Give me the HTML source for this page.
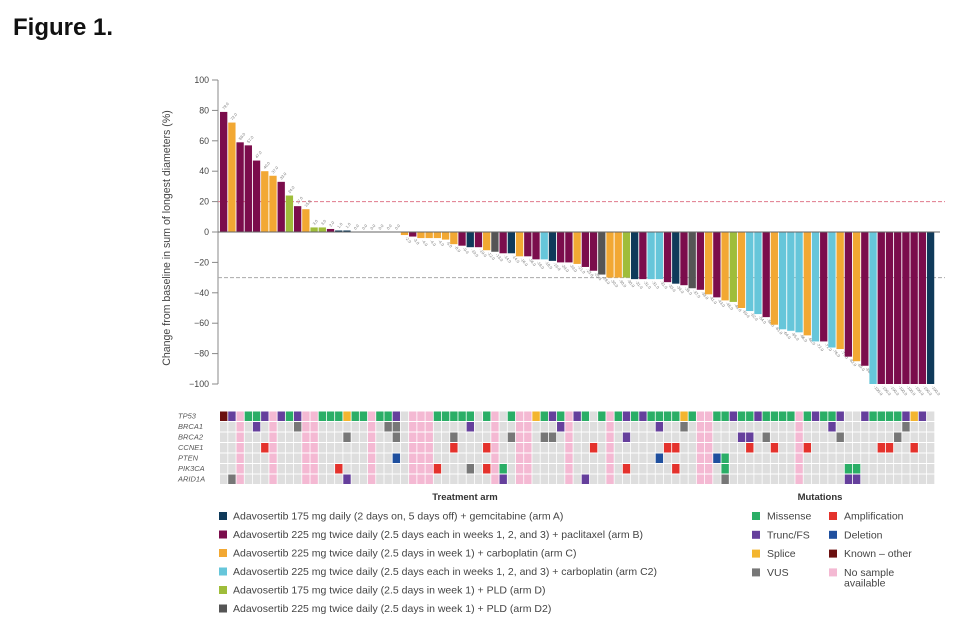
<!DOCTYPE html>
<html><head><meta charset="utf-8"><style>
body{margin:0;background:#fff;width:955px;height:628px;overflow:hidden;font-family:"Liberation Sans",sans-serif}
</style></head><body>
<svg id="chart" width="955" height="628" xmlns="http://www.w3.org/2000/svg" font-family="Liberation Sans, sans-serif">
<text x="13" y="35" font-size="24" font-weight="bold" fill="#111">Figure 1.</text>
<g id="axis"></g>
<text transform="translate(170,238) rotate(-90)" text-anchor="middle" font-size="10.6" fill="#444">Change from baseline in sum of longest diameters (%)</text>
<g id="bars"></g>
<g id="heat"></g>
<g id="legend"></g>
<g id="mlegend"></g>
</svg>
<script>
const values=[79,72,59,57,47,40,37,33,24,17,15,3,3,2,1,1,0,0,0,0,0,0,
-2,-3,-4,-4,-4,-5,-8,-9,-10,-10,-12,-13,-14,-14,-16,-16,-18,-18,-19,-20,-20,
-21,-23,-25.5,-28,-30,-30,-30,-31,-31,-31,-31,-33,-34,-35,-37,-38,-41,-43,-45,-46,-50,-52,-54,-56,-61,-64,-65,-66,-68,-72,-72,-76,-77,-82,-85,-88,-100,-100,-100,-100,-100,-100,-100,-100];
const arms=['B','C','B','B','B','C','C','B','D','B','C','D','D','B','A','A','B','B','B','B','B','B',
'C','B','C','C','C','C','C','B','A','B','C','D2','B','A','C','B','B','C2','A','B','B',
'C','B','B','D2','C','C','D','A','B','C2','C2','B','A','B','D2','B','C','B','C','D','C','C2','C2','B','C','C2','C2','C2','C','C2','B','C2','C','B','C','B','C2','B','B','B','B','B','B','A'];
const yTicks=[100,80,60,40,20,0,-20,-40,-60,-80,-100];
const genes=['TP53','BRCA1','BRCA2','CCNE1','PTEN','PIK3CA','ARID1A'];
const noSample=[2,6,10,11,18,23,24,25,33,36,37,42,47,58,59,70];
const tp53=[[0,'k'],[1,'t'],[3,'m'],[4,'m'],[5,'t'],[7,'t'],[8,'m'],[9,'t'],[12,'m'],[13,'m'],[14,'m'],[15,'s'],[16,'m'],[17,'m'],[19,'m'],[20,'m'],[21,'t'],[26,'m'],[27,'m'],[28,'m'],[29,'m'],[30,'m'],[32,'m'],[35,'m'],[38,'s'],[39,'m'],[40,'t'],[41,'m'],[43,'t'],[44,'m'],[46,'m'],[48,'m'],[49,'t'],[50,'m'],[51,'t'],[52,'m'],[53,'m'],[54,'m'],[55,'m'],[56,'s'],[57,'m'],[60,'m'],[61,'m'],[62,'t'],[63,'m'],[64,'m'],[65,'t'],[66,'m'],[67,'m'],[68,'m'],[69,'m'],[71,'m'],[72,'t'],[73,'m'],[74,'m'],[75,'t'],[78,'t'],[79,'m'],[80,'m'],[81,'m'],[82,'m'],[83,'t'],[84,'s'],[85,'t']];
const brca1=[[4,'t'],[9,'v'],[20,'v'],[21,'v'],[30,'t'],[41,'t'],[53,'t'],[56,'v'],[74,'t'],[83,'v']];
const brca2=[[15,'v'],[21,'v'],[28,'v'],[35,'v'],[39,'v'],[40,'v'],[49,'t'],[63,'t'],[64,'t'],[66,'v'],[75,'v'],[82,'v']];
const ccne1=[[5,'a'],[28,'a'],[32,'a'],[45,'a'],[54,'a'],[55,'a'],[64,'a'],[67,'a'],[71,'a'],[80,'a'],[81,'a'],[84,'a']];
const pten=[[21,'d'],[53,'d'],[60,'d'],[61,'m']];
const pik3ca=[[14,'a'],[26,'a'],[30,'v'],[32,'a'],[34,'m'],[49,'a'],[55,'a'],[61,'m'],[76,'m'],[77,'m']];
const arid1a=[[1,'v'],[15,'t'],[34,'t'],[44,'t'],[61,'v'],[76,'t'],[77,'t']];
const geneData=[tp53,brca1,brca2,ccne1,pten,pik3ca,arid1a];
const armNames=['A','B','C','C2','D','D2'];
const armLabels=['Adavosertib 175 mg daily (2 days on, 5 days off) + gemcitabine (arm A)','Adavosertib 225 mg twice daily (2.5 days each in weeks 1, 2, and 3) + paclitaxel (arm B)','Adavosertib 225 mg twice daily (2.5 days in week 1) + carboplatin (arm C)','Adavosertib 225 mg twice daily (2.5 days each in weeks 1, 2, and 3) + carboplatin (arm C2)','Adavosertib 175 mg twice daily (2.5 days in week 1) + PLD (arm D)','Adavosertib 225 mg twice daily (2.5 days in week 1) + PLD (arm D2)'];
const mutCodes=['m','t','s','v','a','d','k','p'];
const mutLabels=['Missense','Trunc/FS','Splice','VUS','Amplification','Deletion','Known – other','No sample available'];

const armColor={A:'#0f3a5a',B:'#7b0d4c',C:'#f2a833',C2:'#66c6da',D:'#9fbd3a',D2:'#555'};
const mutColor={m:'#2aae66',t:'#653f9c',s:'#f3b52f',v:'#777',a:'#e4322c',d:'#1f4f9e',k:'#6b1010',p:'#f4b9d3'};
const NS='http://www.w3.org/2000/svg';
function mk(tag,attrs,parent,txt){const e=document.createElementNS(NS,tag);for(const k in attrs)e.setAttribute(k,attrs[k]);if(txt!==undefined)e.textContent=txt;parent.appendChild(e);return e;}
const X0=220,STEP=8.22,Y0=232,PX=1.52;
const xS=i=>X0+i*STEP;
const yS=v=>Y0-v*PX;

const ax=document.getElementById('axis');
let l=mk('line',{x1:218,x2:218,y1:yS(100),y2:yS(-100),stroke:'#888','stroke-width':1},ax);

yTicks.forEach(t=>{
  let tk=mk('line',{x1:212,x2:218,y1:yS(t),y2:yS(t),stroke:'#888'},ax);
  
  let tl=mk('text',{x:209,y:yS(t)+3,'text-anchor':'end','font-size':8.8,fill:'#444'},ax,t<0?'−'+(-t):String(t));
  
});
const bg=document.getElementById('bars');
let r20=mk('line',{x1:218,x2:945,y1:yS(20),y2:yS(20),stroke:'#e07a8c','stroke-dasharray':'4,2'},bg);

let r30=mk('line',{x1:218,x2:945,y1:yS(-30),y2:yS(-30),stroke:'#aaa','stroke-dasharray':'4,2'},bg);

values.forEach((v,i)=>{
  const x=xS(i),y=Math.min(yS(v),Y0),h=Math.abs(yS(v)-Y0);
  if(h>0){let b=mk('rect',{x:x,y:y,width:STEP-0.9,height:h,fill:armColor[arms[i]]},bg);
  }
  const ly=v>=0?yS(v)-2:yS(v)+3;const lx=x+STEP/2;
  let t=mk('text',{x:lx,y:ly,'font-size':4,fill:'#777',transform:'rotate(50 '+lx+' '+ly+')','text-anchor':'start'},bg,v.toFixed(1));
  if(v>=0)t.setAttribute('transform','rotate(-50 '+lx+' '+ly+')');
  
});
let zl=mk('line',{x1:218,x2:940,y1:Y0,y2:Y0,stroke:'#666','stroke-width':1},bg);


const hg=document.getElementById('heat');
const N=values.length,RY=411.5,RH=10.5;
genes.forEach((g,r)=>{
  let gl=mk('text',{x:178,y:RY+r*RH+7,'font-size':7.5,'font-style':'italic',fill:'#555'},hg,g);
  
  const map={};geneData[r].forEach(([c,t])=>map[c]=t);
  for(let j=0;j<N;j++){
    let code=map[j];let col='#dedede';
    if(noSample.includes(j))col=mutColor.p;
    if(code)col=mutColor[code];
    let c=mk('rect',{x:xS(j),y:RY+r*RH,width:STEP-0.8,height:RH-1,fill:col},hg);
    
  }
});

const lg=document.getElementById('legend');
let lt=mk('text',{x:465,y:500,'text-anchor':'middle','font-size':9.5,'font-weight':'bold',fill:'#333'},lg,'Treatment arm');

armNames.forEach((a,i)=>{
  const y=512+i*18.5;
  let s=mk('rect',{x:219,y:y,width:8,height:8,fill:armColor[a]},lg);
  
  let t=mk('text',{x:233,y:y+7.5,'font-size':10.5,fill:'#444'},lg,armLabels[i]);
  
});
const mg=document.getElementById('mlegend');
let mt=mk('text',{x:820,y:500,'text-anchor':'middle','font-size':9.5,'font-weight':'bold',fill:'#333'},mg,'Mutations');

mutCodes.forEach((c,i)=>{
  const col=i<4?0:1,row=i%4;
  const x=col?829:752,y=512+row*18.8;
  let s=mk('rect',{x:x,y:y,width:8,height:8,fill:mutColor[c]},mg);
  
  let t;
  if(c==='p'){t=mk('text',{x:x+15,y:y+7.5,'font-size':10.5,fill:'#444'},mg,'No sample');
    let t2=mk('text',{x:x+15,y:y+18,'font-size':10.5,fill:'#444'},mg,'available');
    }
  else t=mk('text',{x:x+15,y:y+7.5,'font-size':10.5,fill:'#444'},mg,mutLabels[i]);
  
});
</script>
</body></html>
